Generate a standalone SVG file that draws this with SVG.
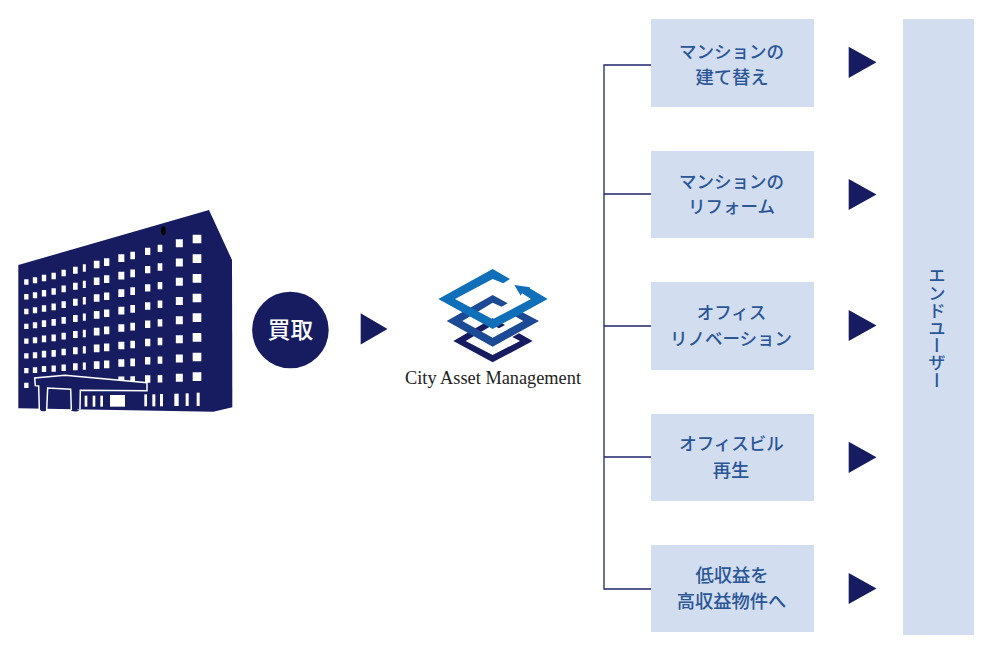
<svg xmlns="http://www.w3.org/2000/svg" width="1000" height="651" viewBox="0 0 1000 651">
<style>
text{font-family:"Noto Sans CJK JP","Noto Sans",sans-serif;font-weight:500}
.box{fill:#d2ddf0}
.lbl{font-size:17.5px;fill:#2a5596;text-anchor:middle}
.kj{font-size:18.3px}
.tri{fill:#171c61}
.navy{fill:#171c61}
.win{stroke:#fff;fill:none}
.wfill{fill:#fff}
.con{fill:none;stroke:#20256a;stroke-width:1.3}
</style>
<rect width="1000" height="651" fill="#fff"/>
<g id="building" transform="translate(0 200) scale(.33333)">
<path class="navy" d="M55 195L627 30L696 180L697 622L640 635L55 625Z"/>
<line class="win" x1="79" x2="79" y1="238" y2="564" stroke-width="13" stroke-dasharray="16 28.3"/>
<line class="win" x1="105" x2="105" y1="232" y2="519" stroke-width="13" stroke-dasharray="18 26.9"/>
<line class="win" x1="132" x2="132" y1="224" y2="516" stroke-width="13" stroke-dasharray="20 25.7"/>
<line class="win" x1="161" x2="161" y1="218" y2="515" stroke-width="13" stroke-dasharray="20 26.4"/>
<line class="win" x1="191" x2="191" y1="209" y2="513" stroke-width="13" stroke-dasharray="20 27.4"/>
<line class="win" x1="226" x2="226" y1="200" y2="511" stroke-width="14" stroke-dasharray="21 27.3"/>
<line class="win" x1="253" x2="253" y1="193" y2="509" stroke-width="9" stroke-dasharray="22 27.1"/>
<line class="win" x1="290" x2="290" y1="182" y2="507" stroke-width="17" stroke-dasharray="23 27.3"/>
<line class="win" x1="320" x2="320" y1="175" y2="505" stroke-width="16" stroke-dasharray="23 28.1"/>
<line class="win" x1="364" x2="364" y1="163" y2="553" stroke-width="18" stroke-dasharray="23 29.4"/>
<line class="win" x1="398" x2="398" y1="155" y2="552" stroke-width="14" stroke-dasharray="23 30.4"/>
<line class="win" x1="443" x2="443" y1="143" y2="549" stroke-width="16" stroke-dasharray="22 32.7"/>
<line class="win" x1="480" x2="480" y1="134" y2="548" stroke-width="14" stroke-dasharray="22 33.9"/>
<line class="win" x1="538" x2="538" y1="118" y2="546" stroke-width="21" stroke-dasharray="24 33.6"/>
<line class="win" x1="591" x2="591" y1="104" y2="543" stroke-width="26" stroke-dasharray="26 33"/>
<ellipse cx="490" cy="92" rx="7" ry="13" fill="#000"/>
<path class="navy" d="M120 555L195 562L238 568L440 572L442 548L195 526L104 534L106 557L120 559L120 630Q128 636 138 632L143 564L212 568L214 632Q226 637 238 632Z"/>
<path fill="none" stroke="#fff" stroke-width="4.500" d="M118 630L116 558L106 557L104 534L195 526L441 548L441 572L241 571L240 628M140 632L143 564L212 568L214 630"/>
<g class="wfill">
<rect x="254" y="587" width="8" height="33"/><rect x="278" y="587" width="8" height="33"/><rect x="301" y="587" width="8" height="33"/>
<rect x="330" y="585" width="45" height="35"/>
<rect x="433" y="583" width="8" height="36"/><rect x="457" y="583" width="9" height="36"/><rect x="480" y="582" width="9" height="37"/>
<rect x="523" y="581" width="13" height="37"/><rect x="557" y="580" width="9" height="38"/><rect x="590" y="578" width="9" height="40"/>
</g>
</g>
<g id="kaitori">
<circle class="navy" cx="290.4" cy="330" r="38.3"/>
<text x="290.4" y="338" font-size="22.6" fill="#fff" text-anchor="middle">買取</text>
</g>
<polygon id="arrow-kaitori" class="tri" points="360.7,313.3 387.5,329 360.7,344.5"/>
<g id="logo">
<g transform="translate(435 265) scale(.33333)">
<polygon fill="#171c61" points="210,180 173,160 55,228 173,292 293,228 252,205 232,216 255,228 173,270 92,228 173,180 192,190"/>
<polygon fill="#1c4a94" points="218,115 173,90 35,168 173,245 312,168 262,142 240,154 265,168 173,218 82,168 173,113 200,125"/>
<polygon fill="#0f6fb8" points="225,42 173,12 10,102 173,192 338,102 284,70 285,67 238,60 257,92 261,85 288,102 173,163 60,102 173,42 205,55"/>
</g>
<text x="405" y="384" font-size="18" textLength="176" lengthAdjust="spacingAndGlyphs" fill="#222" style="font-family:'Liberation Serif',serif;font-weight:400">City Asset Management</text>
</g>
<g id="connectors">
<path class="con" d="M651 65H604V589H651M604 194H651M604 326H651M604 457H651"/>
</g>
<g id="n1"><rect class="box" x="651" y="19" width="163" height="88"/>
<text class="lbl" x="731.500" y="58">マンションの</text><text class="lbl kj" x="732" y="83.500">建て替え</text></g>
<g id="n2"><rect class="box" x="651" y="151" width="163" height="87"/>
<text class="lbl" x="731.500" y="187.500">マンションの</text><text class="lbl" x="731.500" y="212.500">リフォーム</text></g>
<g id="n3"><rect class="box" x="651" y="282" width="163" height="88"/>
<text class="lbl" x="731.500" y="318.500">オフィス</text><text class="lbl" x="731" y="344.500">リノベーション</text></g>
<g id="n4"><rect class="box" x="651" y="414" width="163" height="87"/>
<text class="lbl" x="731.500" y="450">オフィスビル</text><text class="lbl kj" x="731" y="476.500">再生</text></g>
<g id="n5"><rect class="box" x="651" y="545" width="163" height="87"/>
<text class="lbl kj" x="732" y="581.500">低収益を</text><text class="lbl kj" x="731.500" y="607.500">高収益物件へ</text></g>
<g id="arrows">
<polygon class="tri" points="848.700,46.700 876.500,62.300 848.700,78"/>
<polygon class="tri" points="848.700,179 876.500,194.500 848.700,210"/>
<polygon class="tri" points="848.700,310 876.500,325.500 848.700,341"/>
<polygon class="tri" points="848.700,441.700 876.500,457.200 848.700,473"/>
<polygon class="tri" points="848.700,573 876.500,588.500 848.700,604"/>
</g>
<g id="enduser"><rect class="box" x="903" y="19" width="71" height="616"/>
<text x="937" y="267" font-size="17.400" fill="#2a5596" style="writing-mode:vertical-rl">エンドユーザー</text></g>
</svg>
